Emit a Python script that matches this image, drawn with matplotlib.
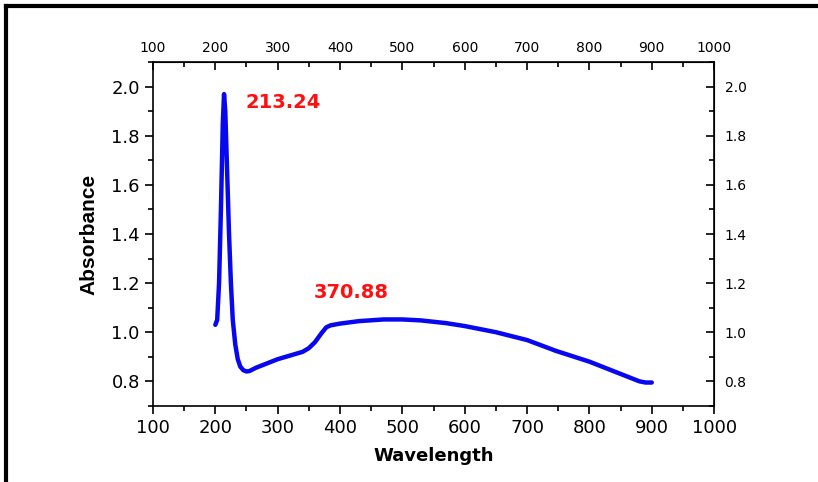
import numpy as np
import matplotlib
matplotlib.use("Agg")
import matplotlib.pyplot as plt
from matplotlib.ticker import FormatStrFormatter
from matplotlib.lines import Line2D

plt.rcParams['font.family'] = ['DejaVu Sans']

# spectrum
wavelength = [200, 203, 206, 209, 212, 214, 216, 219, 222, 225, 228, 232, 236, 240,
              245, 250, 255, 265, 280, 300, 320, 340, 350, 360, 370, 378, 385, 400,
              430, 470, 500, 530, 570, 600, 650, 700, 740, 745, 800, 850, 880, 890, 900]
absorbance = [1.03, 1.05, 1.2, 1.5, 1.85, 1.97, 1.9, 1.65, 1.4, 1.2, 1.05, 0.95, 0.89, 0.86,
              0.845, 0.84, 0.842, 0.855, 0.87, 0.89, 0.905, 0.92, 0.935, 0.96, 0.995, 1.02, 1.028, 1.035,
              1.045, 1.052, 1.052, 1.048, 1.037, 1.025, 1.0, 0.968, 0.93, 0.925, 0.88, 0.83, 0.8, 0.795, 0.795]

peak_labels = ["213.24", "370.88"]
peak_pos = [(249, 1.935), (357, 1.16)]

x_major = np.arange(100, 1001, 100)
x_minor = np.arange(150, 1000, 100)
y_major = np.round(np.arange(0.8, 2.01, 0.2), 1)
y_minor = np.round(np.arange(0.7, 2.11, 0.2), 1)

fig = plt.figure(figsize=(8.18, 4.82), dpi=100)
ax = fig.add_axes([0.187, 0.158, 0.686, 0.713])

ax.plot(wavelength, absorbance, color='#0808f0', lw=3.2, solid_capstyle='round')

ax.set_xlim(100, 1000)
ax.set_ylim(0.7, 2.1)
ax.set_xticks(x_major)
ax.set_xticks(x_minor, minor=True)
ax.set_yticks(y_major)
ax.set_yticks(y_minor, minor=True)
ax.yaxis.set_major_formatter(FormatStrFormatter('%.1f'))
ax.tick_params(axis='both', which='major', direction='out', length=6, width=1.2, labelsize=13)
ax.tick_params(axis='both', which='minor', direction='out', length=3.5, width=1.2)

# top and right mirror axes, ticks inward
top = ax.secondary_xaxis('top')
top.set_xticks(x_major)
top.set_xticks(x_minor, minor=True)
top.tick_params(which='major', direction='in', length=6, width=1.2, labelsize=10, pad=5)
top.tick_params(which='minor', direction='in', length=3.5, width=1.2)
right = ax.secondary_yaxis('right')
right.set_yticks(y_major)
right.set_yticks(y_minor, minor=True)
right.yaxis.set_major_formatter(FormatStrFormatter('%.1f'))
right.tick_params(which='major', direction='in', length=6, width=1.2, labelsize=10, pad=7.5)
right.tick_params(which='minor', direction='in', length=3.5, width=1.2)

for sp in ax.spines.values():
    sp.set_linewidth(1.2)

ax.set_xlabel("Wavelength", fontsize=13, fontweight='bold', labelpad=7)
ax.set_ylabel("Absorbance", fontsize=15, fontweight='bold', labelpad=9,
              family=['Liberation Sans'])

for lab, (px, py) in zip(peak_labels, peak_pos):
    ax.text(px, py, lab, color='#ff1010', fontsize=14, fontweight='bold', va='center', ha='left')

# frame lines at left and top of the image
fig.add_artist(Line2D([0.007, 0.007], [0, 0.988], color='black', lw=3, transform=fig.transFigure))
fig.add_artist(Line2D([0.007, 1.0], [0.988, 0.988], color='black', lw=3, transform=fig.transFigure))

fig.savefig("out.png", dpi=100)
